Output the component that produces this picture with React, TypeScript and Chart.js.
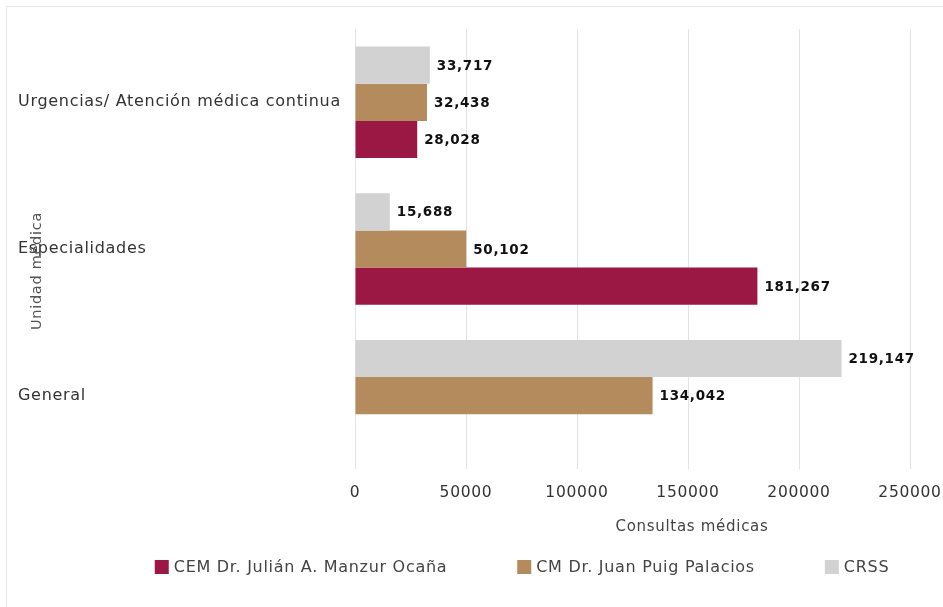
import React, { useEffect, useRef } from "react";
import { Chart, registerables } from "chart.js";

Chart.register(...registerables);

// ---- data ----
const categories = ["Urgencias/ Atención médica continua", "Especialidades", "General"];
const seriesNames = ["CRSS", "CM Dr. Juan Puig Palacios", "CEM Dr. Julián A. Manzur Ocaña"];
const crssValues = [33717, 15688, 219147];
const cmValues = [32438, 50102, 134042];
const cemValues = [28028, 181267, null];
const xTickValues = [0, 50000, 100000, 150000, 200000, 250000];
const xTitle = "Consultas médicas";
const yTitle = "Unidad médica";

// ---- styles ----
const palette = ["#d3d2d3", "#b48b5c", "#9b1844"];
const FONT = "'DejaVu Sans', sans-serif";
const SPACING = "0.7px";

const spacingPlugin = {
  id: "spacing",
  beforeUpdate(chart: any) {
    chart.ctx.letterSpacing = SPACING;
  },
  beforeDraw(chart: any) {
    chart.ctx.letterSpacing = SPACING;
  },
};

const annotatePlugin = {
  id: "annotate",
  afterDraw(chart: any) {
    const ctx = chart.ctx as CanvasRenderingContext2D;
    ctx.save();
    (ctx as any).letterSpacing = SPACING;

    // value labels
    ctx.font = `bold 13.5px ${FONT}`;
    ctx.fillStyle = "#111";
    ctx.textAlign = "left";
    ctx.textBaseline = "middle";
    chart.data.datasets.forEach((ds: any, i: number) => {
      const meta = chart.getDatasetMeta(i);
      meta.data.forEach((el: any, j: number) => {
        const v = ds.data[j];
        if (v === null || v === undefined) return;
        ctx.fillText(Number(v).toLocaleString("en-US"), el.x + 7, el.y + 1);
      });
    });

    // x axis title
    ctx.font = `15px ${FONT}`;
    ctx.fillStyle = "#444";
    ctx.textAlign = "center";
    ctx.fillText(xTitle, 692, 527);

    // y axis title (overlapping the category labels as in the source)
    ctx.save();
    ctx.translate(37, 271);
    ctx.rotate(-Math.PI / 2);
    ctx.font = `14.5px ${FONT}`;
    ctx.fillStyle = "#555";
    ctx.textAlign = "center";
    ctx.textBaseline = "middle";
    ctx.fillText(yTitle, 0, 0);
    ctx.restore();

    // legend (reverse dataset order)
    ctx.font = `16px ${FONT}`;
    ctx.textAlign = "left";
    ctx.textBaseline = "middle";
    const order = chart.data.datasets.map((_: any, i: number) => i).reverse();
    const box = 14;
    const textGap = 5;
    const itemGap = 70;
    const widths = order.map(
      (i: number) => box + textGap + ctx.measureText(chart.data.datasets[i].label).width
    );
    const total = widths.reduce((a: number, b: number) => a + b, 0) + itemGap * (order.length - 1);
    let x = 522 - total / 2;
    const cy = 567;
    order.forEach((i: number, k: number) => {
      const ds = chart.data.datasets[i];
      ctx.fillStyle = ds.backgroundColor;
      ctx.fillRect(x, cy - box / 2, box, box);
      ctx.fillStyle = "#444";
      ctx.fillText(ds.label, x + box + textGap, cy + 1);
      x += widths[k] + itemGap;
    });

    ctx.restore();
  },
};

export default function App() {
  const ref = useRef<HTMLCanvasElement | null>(null);

  useEffect(() => {
    if (!ref.current) return;
    const chart = new Chart(ref.current, {
      type: "bar",
      data: {
        labels: categories,
        datasets: [
          { label: seriesNames[0], data: crssValues, backgroundColor: palette[0] },
          { label: seriesNames[1], data: cmValues, backgroundColor: palette[1] },
          { label: seriesNames[2], data: cemValues as any, backgroundColor: palette[2] },
        ],
      },
      options: {
        indexAxis: "y",
        responsive: false,
        devicePixelRatio: 1,
        animation: false,
        layout: { padding: { left: 18, right: 33, top: 29, bottom: 78 } },
        datasets: {
          bar: { categoryPercentage: 0.76, barPercentage: 1.0, borderWidth: 0 },
        },
        plugins: {
          legend: { display: false },
          tooltip: { enabled: false },
        },
        scales: {
          x: {
            type: "linear",
            min: 0,
            max: 250000,
            afterBuildTicks: (s: any) => {
              s.ticks = xTickValues.map((v) => ({ value: v }));
            },
            ticks: {
              font: { family: FONT, size: 15.5 },
              color: "#333",
              padding: 15,
              maxRotation: 0,
              callback: (v: any) => String(v),
            },
            grid: { color: "#e3e3e3", drawTicks: false, lineWidth: 1 },
            border: { display: false },
            afterFit: (s: any) => {
              s.height = 60;
              s.paddingLeft = 0;
              s.paddingRight = 0;
            },
          },
          y: {
            grid: { display: false, drawTicks: false },
            border: { display: false },
            ticks: {
              font: { family: FONT, size: 16 },
              color: "#333",
              padding: 10,
              crossAlign: "far",
            },
            afterFit: (s: any) => {
              s.width = 337;
              s.paddingTop = 0;
              s.paddingBottom = 0;
            },
          },
        },
      },
      plugins: [spacingPlugin, annotatePlugin],
    });
    return () => chart.destroy();
  }, []);

  return (
    <div
      style={{
        position: "fixed",
        left: 0,
        top: 0,
        width: 943,
        height: 607,
        background: "#fff",
        overflow: "hidden",
      }}
    >
      <div
        style={{
          position: "absolute",
          left: 6,
          top: 6,
          width: 960,
          height: 620,
          borderLeft: "1px solid #e8e8e8",
          borderTop: "1px solid #e8e8e8",
        }}
      />
      <canvas
        ref={ref}
        width={943}
        height={607}
        style={{ position: "absolute", left: 0, top: 0, width: 943, height: 607 }}
      />
    </div>
  );
}
